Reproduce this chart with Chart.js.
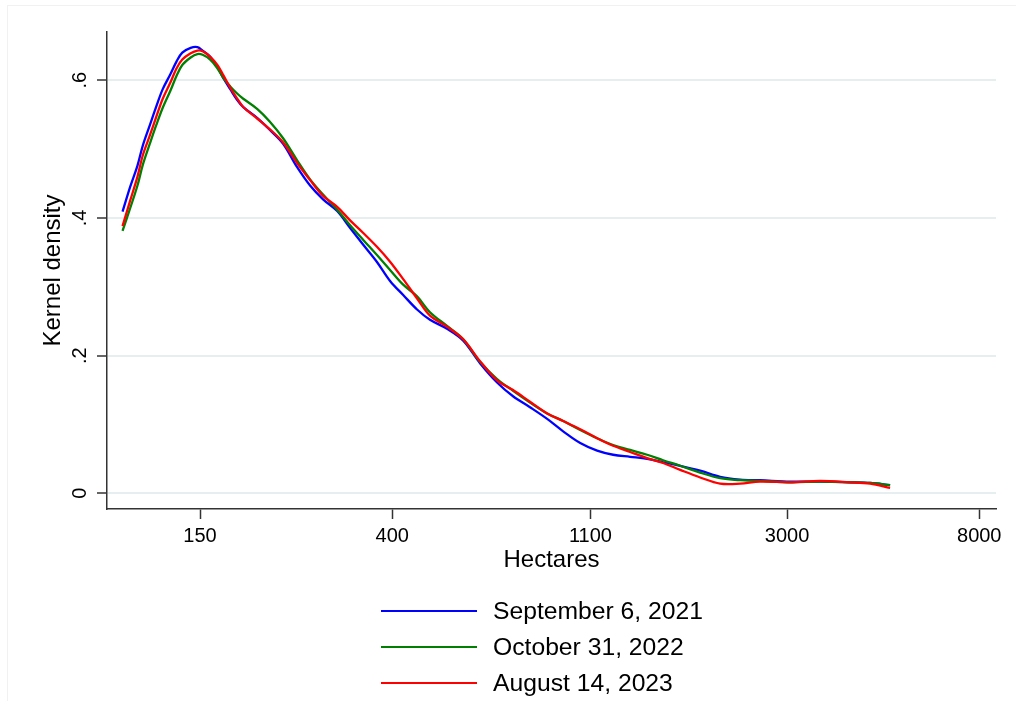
<!DOCTYPE html>
<html>
<head>
<meta charset="utf-8">
<script src="https://cdn.jsdelivr.net/npm/chart.js@4/dist/chart.umd.min.js"></script>
<style>
    html, body { margin: 0; padding: 0; background: #fff; }
    #wrap { position: relative; width: 1016px; height: 701px; }
    #marco { position: absolute; left: 7px; top: 5px; right: 0; bottom: 0; border-top: 1px solid #f1f1f1; border-left: 1px solid #f1f1f1; }
    #leyenda { position: absolute; left: 381px; top: 593px; font-family: 'Liberation Sans', Arial, sans-serif; font-size: 24.7px; color: #000; }
    .fila { height: 36px; display: flex; align-items: center; }
    .muestra { width: 96px; height: 2.5px; margin-right: 16px; }
</style>
</head>
<body>
<div id="wrap">
    <div id="marco"></div>
    <canvas id="grafico" width="1016" height="701"></canvas>
    <div id="leyenda"></div>
</div>
<script>
// Datos (eje x en hectareas, escala log)
let hectareas = [101, 105, 109, 112, 116, 120, 124, 129, 133, 137,
    143, 148, 152, 158, 164, 169, 175, 181, 187, 201,
    214, 229, 246, 263, 281, 302, 323, 345, 370, 396,
    423, 454, 485, 529, 574, 626, 683, 741, 808, 882,
    957, 1044, 1138, 1235, 1347, 1469, 1594, 1739, 1925, 2132,
    2361, 2614, 3047, 3552, 4140, 4585, 5076];

let densidad2021 = [0.409, 0.445, 0.476, 0.505, 0.534, 0.562, 0.587, 0.609, 0.627, 0.640,
    0.647, 0.648, 0.643, 0.634, 0.619, 0.603, 0.587, 0.572, 0.561, 0.545,
    0.528, 0.508, 0.474, 0.447, 0.427, 0.410, 0.385, 0.361, 0.336, 0.308,
    0.288, 0.267, 0.252, 0.239, 0.222, 0.189, 0.161, 0.141, 0.125, 0.108,
    0.090, 0.073, 0.062, 0.056, 0.053, 0.050, 0.045, 0.040, 0.033, 0.024,
    0.020, 0.019, 0.017, 0.017, 0.016, 0.015, 0.012];

let densidad2022 = [0.381, 0.414, 0.447, 0.477, 0.507, 0.535, 0.560, 0.585, 0.606, 0.622,
    0.633, 0.638, 0.637, 0.630, 0.617, 0.603, 0.591, 0.581, 0.573, 0.558,
    0.540, 0.516, 0.484, 0.456, 0.434, 0.412, 0.389, 0.368, 0.346, 0.324,
    0.303, 0.286, 0.263, 0.243, 0.224, 0.191, 0.166, 0.149, 0.132, 0.116,
    0.105, 0.092, 0.080, 0.070, 0.063, 0.056, 0.048, 0.040, 0.030, 0.022,
    0.019, 0.018, 0.016, 0.017, 0.016, 0.015, 0.012];

let densidad2023 = [0.388, 0.425, 0.460, 0.491, 0.519, 0.547, 0.573, 0.597, 0.617, 0.630,
    0.639, 0.643, 0.642, 0.634, 0.622, 0.607, 0.589, 0.574, 0.561, 0.544,
    0.529, 0.510, 0.480, 0.455, 0.432, 0.416, 0.396, 0.378, 0.358, 0.336,
    0.311, 0.283, 0.258, 0.242, 0.224, 0.192, 0.164, 0.150, 0.133, 0.116,
    0.105, 0.093, 0.080, 0.069, 0.060, 0.051, 0.044, 0.034, 0.023, 0.014,
    0.014, 0.017, 0.016, 0.018, 0.016, 0.014, 0.008];

let nombresSeries = ['September 6, 2021', 'October 31, 2022', 'August 14, 2023'];
let coloresSeries = ['#0000ff', '#008000', '#ff0000'];
let ticksX = [150, 400, 1100, 3000, 8000];
let ticksY = [0, 0.2, 0.4, 0.6];

let fuente = "'Liberation Sans', Arial, sans-serif";
Chart.defaults.font.family = fuente;
Chart.defaults.color = '#000';

// Armar los datasets (rojo encima, luego verde, azul debajo)
let todasLasSeries = [densidad2021, densidad2022, densidad2023];
let datasets = [];
for (let s = 0; s < todasLasSeries.length; s++) {
    let puntos = [];
    for (let i = 0; i < hectareas.length; i++) {
        puntos.push({ x: hectareas[i], y: todasLasSeries[s][i] });
    }
    datasets.push({
        label: nombresSeries[s],
        data: puntos,
        borderColor: coloresSeries[s],
        borderWidth: 2.3,
        pointRadius: 0,
        fill: false,
        tension: 0.35,
        order: todasLasSeries.length - s
    });
}

let ctx = document.getElementById('grafico').getContext('2d');
let miGrafico = new Chart(ctx, {
    type: 'line',
    data: { datasets: datasets },
    options: {
        responsive: false,
        animation: false,
        devicePixelRatio: 1,
        layout: { padding: { left: 0, right: 20, top: 32, bottom: 112 } },
        plugins: {
            legend: { display: false },
            tooltip: { enabled: false }
        },
        scales: {
            x: {
                type: 'logarithmic',
                min: 93.3,
                max: 8714,
                afterBuildTicks: function(scale) {
                    scale.ticks = ticksX.map(function(v) { return { value: v }; });
                },
                afterFit: function(scale) { scale.height = 80; },
                ticks: {
                    autoSkip: false,
                    maxRotation: 0,
                    padding: 5,
                    font: { size: 20 },
                    callback: function(value) { return String(value); }
                },
                grid: { drawOnChartArea: false, tickLength: 10, tickColor: '#333', tickWidth: 1.5 },
                border: { color: '#333', width: 1.5 },
                title: { display: true, text: 'Hectares', font: { size: 24 }, padding: { top: 0, bottom: 14 } }
            },
            y: {
                min: -0.0228,
                max: 0.670,
                afterBuildTicks: function(scale) {
                    scale.ticks = ticksY.map(function(v) { return { value: v }; });
                },
                afterFit: function(scale) { scale.width = 107; },
                ticks: {
                    minRotation: 90,
                    maxRotation: 90,
                    crossAlign: 'center',
                    padding: 8,
                    font: { size: 20 },
                    callback: function(value) {
                        if (value === 0) return '0';
                        return '.' + Math.round(value * 10);
                    }
                },
                grid: { color: '#e6eef0', lineWidth: 2, tickLength: 10, tickColor: '#333', tickWidth: 1.5 },
                border: { color: '#333', width: 1.5 },
                title: { display: true, text: 'Kernel density', font: { size: 24 }, padding: { top: 39, bottom: 0 } }
            }
        }
    }
});

// Leyenda debajo del grafico, una serie por fila
let leyenda = document.getElementById('leyenda');
for (let i = 0; i < nombresSeries.length; i++) {
    let fila = document.createElement('div');
    fila.className = 'fila';
    let muestra = document.createElement('span');
    muestra.className = 'muestra';
    muestra.style.background = coloresSeries[i];
    let texto = document.createElement('span');
    texto.textContent = nombresSeries[i];
    fila.appendChild(muestra);
    fila.appendChild(texto);
    leyenda.appendChild(fila);
}
</script>
</body>
</html>
